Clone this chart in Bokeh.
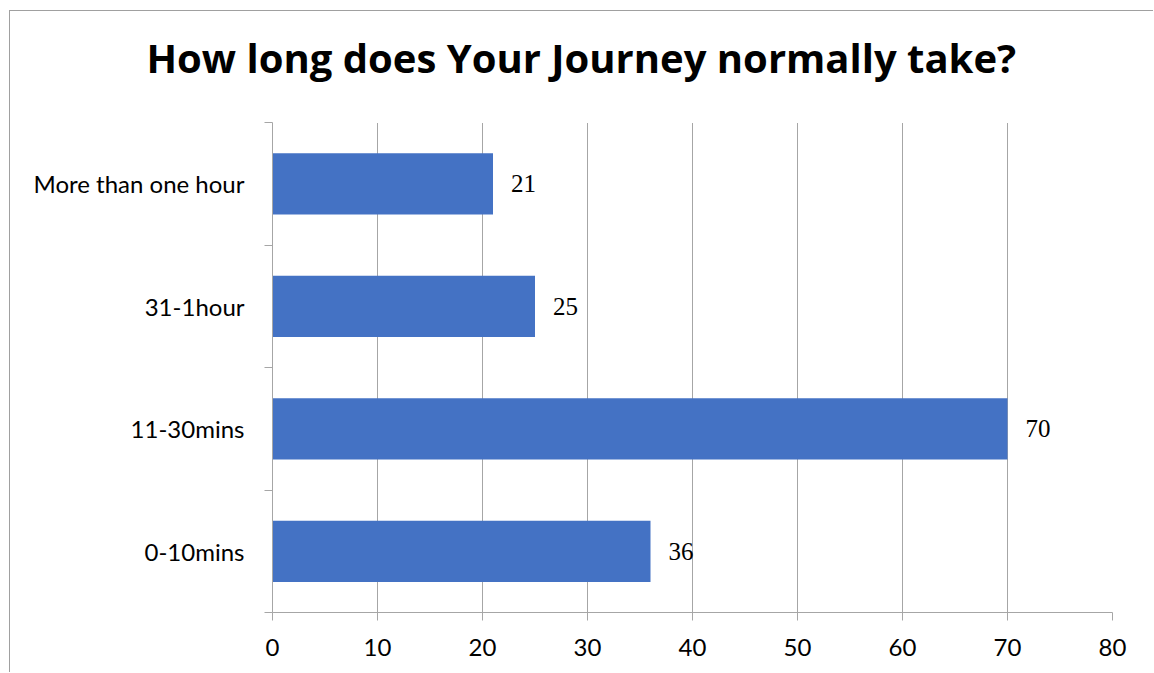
from bokeh.plotting import figure
from bokeh.models import ColumnDataSource, FixedTicker, LabelSet, LinearAxis, Range1d, Title
from bokeh.embed import file_html
from bokeh.resources import INLINE

# Survey answers, bottom to top
categories = ["0-10mins", "11-30mins", "31-1hour", "More than one hour"]
counts = [36, 70, 25, 21]
x_ticks = [0, 10, 20, 30, 40, 50, 60, 70, 80]

FONT = "Lato"
TITLE_FONT = "Open Sans"
GREY = "#a6a6a6"
BAR = "#4472C4"

# each category sits in the middle of a unit band
y_pos = [i + 0.5 for i in range(len(categories))]
source = ColumnDataSource(dict(y=y_pos, count=counts, label=[str(c) for c in counts]))

p = figure(
    width=1144, height=662,
    x_range=Range1d(0, 80), y_range=Range1d(0, len(categories)),
    output_backend="svg", toolbar_location=None,
    min_border_left=262, min_border_right=42, min_border_top=111, min_border_bottom=61,
    margin=(10, 0, 0, 9),
    styles={"border-left": "1px solid #a0a0a0", "border-top": "1px solid #a0a0a0"},
)
p.outline_line_color = None
p.background_fill_color = "white"
p.border_fill_color = "white"

p.hbar(y="y", right="count", left=0, height=0.5, source=source,
       fill_color=BAR, line_color=None)

# value labels to the right of each bar
labels = LabelSet(x="count", y="y", text="label", source=source,
                  x_offset=18, text_align="left", text_baseline="middle",
                  text_font=FONT, text_font_size="25px", text_color="black")
p.add_layout(labels)

# x axis
p.xaxis.ticker = FixedTicker(ticks=x_ticks)
p.xaxis.axis_line_color = GREY
p.xaxis.major_tick_line_color = GREY
p.xaxis.major_tick_out = 8
p.xaxis.major_tick_in = 0
p.xaxis.minor_tick_line_color = None
p.xaxis.major_label_text_font = FONT
p.xaxis.major_label_text_font_size = "24px"
p.xaxis.major_label_text_color = "black"
p.xaxis.major_label_standoff = 18

# y axis: labels at band centres, ticks at band boundaries
p.yaxis.ticker = FixedTicker(ticks=y_pos, minor_ticks=list(range(len(categories) + 1)))
p.yaxis.major_label_overrides = {y: c for y, c in zip(y_pos, categories)}
p.yaxis.axis_line_color = GREY
p.yaxis.major_tick_line_color = None
p.yaxis.minor_tick_line_color = GREY
p.yaxis.minor_tick_out = 8
p.yaxis.minor_tick_in = 0
p.yaxis.major_label_text_font = FONT
p.yaxis.major_label_text_font_size = "24px"
p.yaxis.major_label_text_color = "black"
p.yaxis.major_label_standoff = 20

p.xgrid.grid_line_color = GREY
p.ygrid.grid_line_color = None

title = Title(text="How long does Your Journey normally take?",
              text_font=TITLE_FONT, text_font_style="bold", text_font_size="40px",
              align="left", offset=-126, standoff=10, text_color="black")
p.add_layout(title, "above")

# blank strip between the plot area and the title: one white tick, no label
gap = LinearAxis(ticker=FixedTicker(ticks=[40]), axis_line_color="white",
                 major_tick_line_color="white", minor_tick_line_color="white",
                 major_tick_out=33, major_tick_in=0, minor_tick_out=0, minor_tick_in=0,
                 major_label_standoff=0, major_label_overrides={40: ""},
                 major_label_text_font_size="1px")
p.add_layout(gap, "above")
p.above = [gap, title]

open("out.html", "w").write(file_html(p, INLINE))
